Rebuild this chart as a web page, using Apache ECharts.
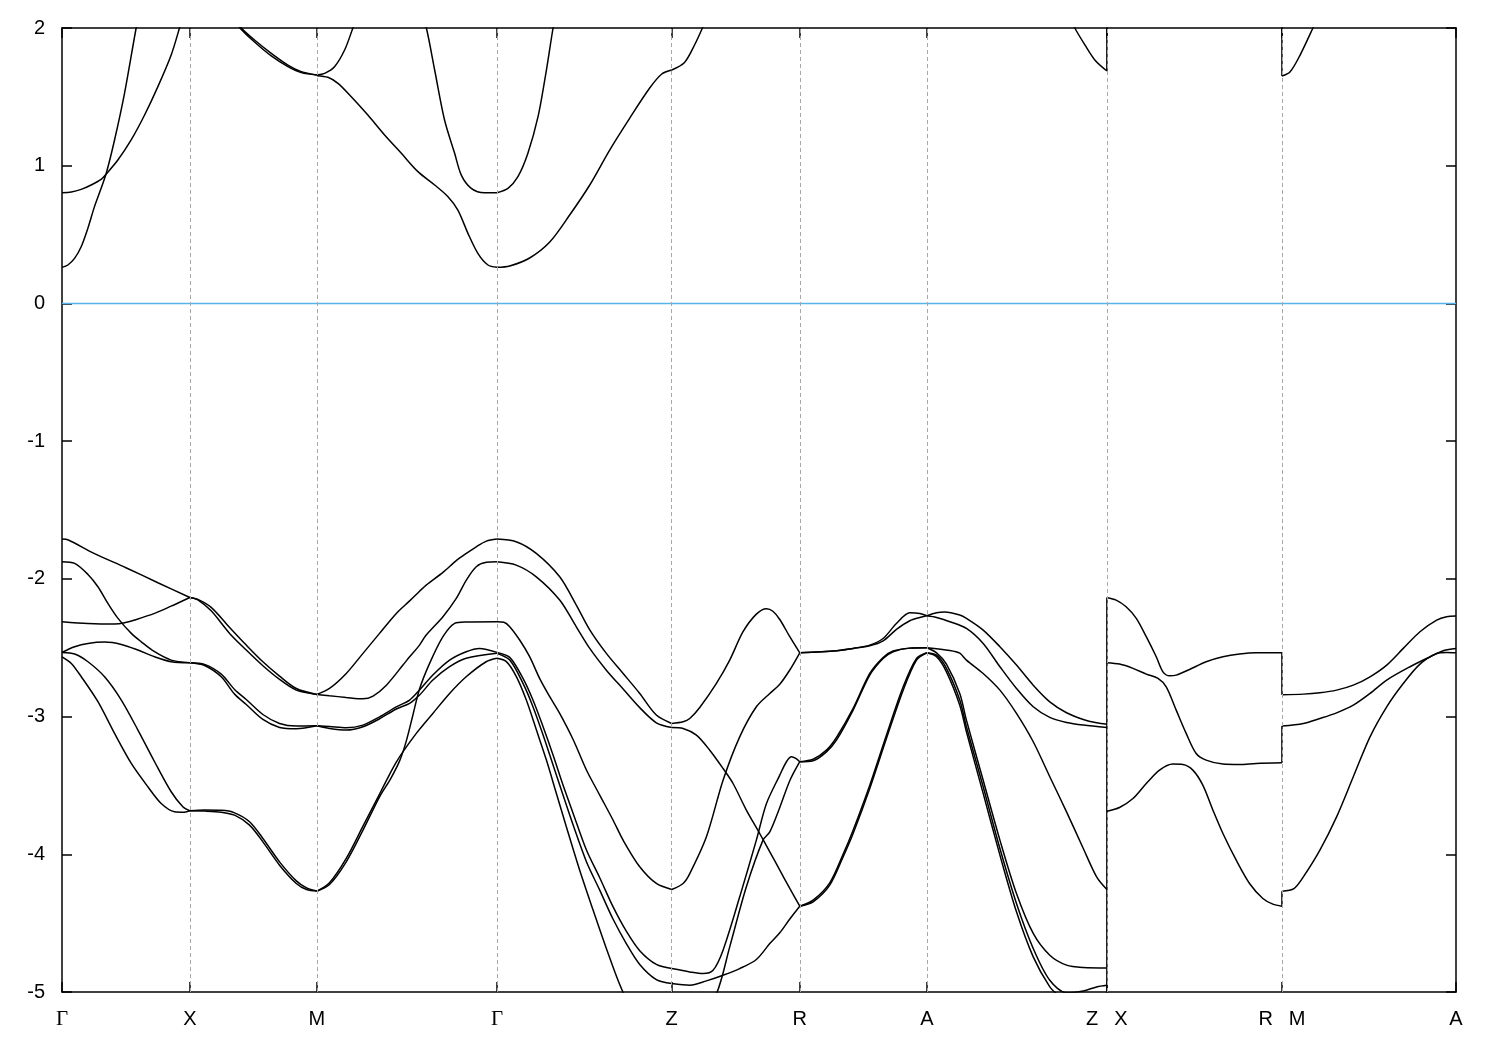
<!DOCTYPE html>
<html><head><meta charset="utf-8">
<script src="https://cdn.jsdelivr.net/npm/echarts@6/dist/echarts.min.js"></script>
<style>html,body{margin:0;padding:0;background:#fff}#chart{width:1500px;height:1050px}</style>
</head><body><div id="chart"></div>
<script>
// k-path positions of the high-symmetry points (path distance, arbitrary units)
const kTicks = [0, 127.8, 254.8, 434.8, 609.5, 737.5, 864.5, 1044.5, 1219.5, 1393.5];
const tickLabels = ['Γ', 'X', 'M', 'Γ', 'Z', 'R', 'A', 'Z X', 'R M', 'A'];
const fermiLevel = 0;
const yTicks = {min: -5, max: 2, step: 1};

// Each segment: list of curves, each curve = [fraction along segment, energy (eV)]
const bandsGX = [
  [[0,-1.711],[0.05,-1.718],[0.25,-1.815],[0.5,-1.919],[0.75,-2.028],[1,-2.135]],
  [[0,-1.876],[0.099,-1.888],[0.203,-1.968],[0.281,-2.057],[0.359,-2.178],[0.438,-2.287],[0.542,-2.396],[0.62,-2.457],[0.724,-2.529],[0.854,-2.59],[1,-2.609]],
  [[0,-2.311],[0.203,-2.324],[0.411,-2.328],[0.49,-2.319],[0.568,-2.299],[0.724,-2.251],[0.854,-2.198],[1,-2.135]],
  [[0,-2.534],[0.099,-2.493],[0.203,-2.469],[0.333,-2.459],[0.464,-2.476],[0.594,-2.517],[0.724,-2.566],[0.854,-2.602],[1,-2.609]],
  [[0,-2.534],[0.099,-2.546],[0.203,-2.602],[0.333,-2.711],[0.464,-2.88],[0.594,-3.098],[0.724,-3.328],[0.854,-3.546],[0.945,-3.655],[1,-3.684]],
  [[0,-2.566],[0.073,-2.614],[0.151,-2.711],[0.281,-2.892],[0.411,-3.122],[0.542,-3.34],[0.672,-3.51],[0.776,-3.631],[0.88,-3.691],[0.958,-3.694],[1,-3.684]],
  [[0,0.262],[0.046,0.279],[0.098,0.327],[0.15,0.412],[0.202,0.545],[0.254,0.703],[0.306,0.836],[0.346,0.945],[0.411,1.187],[0.489,1.526],[0.58,2.0],[0.62,2.18]],
  [[0,0.804],[0.073,0.809],[0.15,0.828],[0.228,0.86],[0.306,0.901],[0.346,0.94],[0.437,1.041],[0.541,1.187],[0.646,1.368],[0.75,1.574],[0.854,1.804],[0.919,2.0],[0.958,2.13]]
];
const bandsXM = [
  [[0,-2.135],[0.063,-2.149],[0.168,-2.207],[0.313,-2.353],[0.444,-2.481],[0.575,-2.602],[0.706,-2.706],[0.838,-2.796],[1,-2.839]],
  [[0,-2.135],[0.063,-2.152],[0.168,-2.232],[0.313,-2.396],[0.444,-2.517],[0.575,-2.631],[0.706,-2.73],[0.838,-2.808],[1,-2.839]],
  [[0,-2.609],[0.116,-2.621],[0.247,-2.692],[0.352,-2.803],[0.444,-2.876],[0.575,-2.985],[0.706,-3.05],[0.838,-3.069],[1,-3.067]],
  [[0,-2.609],[0.116,-2.629],[0.247,-2.711],[0.352,-2.837],[0.444,-2.912],[0.575,-3.021],[0.706,-3.079],[0.838,-3.089],[1,-3.067]],
  [[0,-3.684],[0.116,-3.679],[0.247,-3.681],[0.352,-3.699],[0.47,-3.764],[0.575,-3.885],[0.706,-4.055],[0.838,-4.193],[0.919,-4.244],[1,-4.267]],
  [[0,-3.684],[0.116,-3.686],[0.247,-3.694],[0.352,-3.716],[0.47,-3.788],[0.575,-3.91],[0.706,-4.079],[0.838,-4.212],[0.919,-4.256],[1,-4.267]],
  [[0.3,2.12],[0.405,2.0],[0.509,1.913],[0.641,1.816],[0.772,1.731],[0.877,1.683],[1,1.659]],
  [[0.3,2.1],[0.405,1.99],[0.509,1.898],[0.641,1.797],[0.772,1.719],[0.877,1.676],[1,1.659]]
];
const bandsMG = [
  [[0,-2.839],[0.07,-2.796],[0.163,-2.687],[0.256,-2.541],[0.348,-2.396],[0.441,-2.251],[0.515,-2.16],[0.57,-2.09],[0.607,-2.045],[0.7,-1.953],[0.774,-1.868],[0.83,-1.815],[0.885,-1.767],[0.941,-1.726],[1,-1.711]],
  [[0,-2.839],[0.07,-2.849],[0.163,-2.861],[0.256,-2.871],[0.312,-2.851],[0.386,-2.772],[0.478,-2.626],[0.515,-2.566],[0.57,-2.481],[0.607,-2.408],[0.7,-2.275],[0.774,-2.142],[0.83,-2.009],[0.885,-1.912],[0.941,-1.88],[1,-1.876]],
  [[0,-3.067],[0.07,-3.072],[0.163,-3.081],[0.256,-3.062],[0.348,-3.002],[0.441,-2.93],[0.515,-2.88],[0.57,-2.807],[0.644,-2.698],[0.737,-2.59],[0.829,-2.529],[0.903,-2.505],[1,-2.534]],
  [[0,-3.067],[0.07,-3.086],[0.163,-3.098],[0.256,-3.074],[0.348,-3.016],[0.441,-2.945],[0.515,-2.904],[0.57,-2.844],[0.644,-2.735],[0.737,-2.638],[0.829,-2.577],[1,-2.541]],
  [[0,-4.268],[0.07,-4.22],[0.163,-4.055],[0.256,-3.825],[0.348,-3.583],[0.41,-3.45],[0.46,-3.32],[0.496,-3.18],[0.533,-2.99],[0.57,-2.8],[0.626,-2.614],[0.7,-2.42],[0.765,-2.323],[0.829,-2.313],[1,-2.311]],
  [[0,-4.268],[0.07,-4.207],[0.163,-4.03],[0.256,-3.796],[0.348,-3.563],[0.441,-3.33],[0.552,-3.122],[0.644,-2.977],[0.737,-2.832],[0.829,-2.711],[0.94,-2.602],[1,-2.577]],
  [[0,1.659],[0.043,1.671],[0.098,1.719],[0.154,1.84],[0.2,2.0],[0.24,2.14]],
  [[0,1.654],[0.061,1.642],[0.117,1.598],[0.191,1.501],[0.283,1.368],[0.376,1.223],[0.469,1.09],[0.561,0.957],[0.654,0.86],[0.728,0.775],[0.783,0.678],[0.839,0.509],[0.894,0.364],[0.95,0.279],[1,0.262]],
  [[0.58,2.1],[0.608,2.0],[0.654,1.695],[0.709,1.332],[0.765,1.09],[0.802,0.932],[0.857,0.836],[0.931,0.804],[1,0.804]]
];
const bandsGZ = [
  [[0,-1.711],[0.11,-1.73],[0.225,-1.815],[0.359,-1.985],[0.454,-2.19],[0.531,-2.37],[0.626,-2.541],[0.722,-2.687],[0.817,-2.832],[0.912,-2.989],[1,-3.05]],
  [[0,-1.876],[0.11,-1.9],[0.225,-1.985],[0.359,-2.154],[0.454,-2.348],[0.531,-2.505],[0.626,-2.663],[0.722,-2.8],[0.817,-2.935],[0.912,-3.045],[1,-3.079]],
  [[0,-2.311],[0.04,-2.315],[0.073,-2.347],[0.13,-2.444],[0.187,-2.565],[0.244,-2.723],[0.302,-2.856],[0.359,-2.977],[0.437,-3.17],[0.512,-3.388],[0.588,-3.57],[0.664,-3.751],[0.722,-3.898],[0.817,-4.091],[0.912,-4.212],[1,-4.256]],
  [[0,-2.534],[0.073,-2.57],[0.149,-2.723],[0.206,-2.88],[0.264,-3.074],[0.321,-3.279],[0.378,-3.497],[0.436,-3.703],[0.512,-3.969],[0.588,-4.17],[0.664,-4.38],[0.741,-4.56],[0.817,-4.7],[0.912,-4.8],[1,-4.83]],
  [[0,-2.541],[0.073,-2.59],[0.149,-2.759],[0.206,-2.928],[0.264,-3.134],[0.321,-3.352],[0.378,-3.57],[0.436,-3.788],[0.512,-4.054],[0.588,-4.26],[0.664,-4.47],[0.741,-4.65],[0.817,-4.8],[0.912,-4.91],[1,-4.939]],
  [[0,-2.577],[0.054,-2.601],[0.111,-2.71],[0.168,-2.88],[0.226,-3.098],[0.283,-3.316],[0.34,-3.558],[0.397,-3.8],[0.473,-4.114],[0.55,-4.405],[0.626,-4.684],[0.721,-5.0],[0.817,-5.2],[1,-5.4]],
  [[0,0.804],[0.063,0.836],[0.12,0.92],[0.177,1.09],[0.235,1.356],[0.283,1.695],[0.321,2.0],[0.35,2.2]],
  [[0,0.262],[0.073,0.272],[0.187,0.33],[0.302,0.446],[0.416,0.642],[0.531,0.86],[0.645,1.114],[0.76,1.346],[0.874,1.564],[0.943,1.666],[1,1.695]]
];
const bandsZR = [
  [[0,-3.05],[0.089,-3.038],[0.141,-3.014],[0.219,-2.934],[0.349,-2.759],[0.453,-2.59],[0.557,-2.384],[0.661,-2.256],[0.74,-2.217],[0.79,-2.235],[0.844,-2.295],[0.922,-2.42],[1,-2.537]],
  [[0,-3.079],[0.089,-3.086],[0.193,-3.135],[0.297,-3.244],[0.401,-3.377],[0.479,-3.486],[0.583,-3.679],[0.687,-3.849],[0.766,-3.982],[0.844,-4.115],[0.922,-4.248],[1,-4.377]],
  [[0,-4.256],[0.089,-4.212],[0.141,-4.14],[0.271,-3.873],[0.401,-3.462],[0.531,-3.147],[0.661,-2.929],[0.766,-2.832],[0.844,-2.765],[0.922,-2.662],[1,-2.537]],
  [[0,-4.83],[0.141,-4.854],[0.245,-4.866],[0.323,-4.842],[0.401,-4.696],[0.531,-4.309],[0.661,-3.897],[0.74,-3.631],[0.844,-3.425],[0.896,-3.328],[0.935,-3.292],[0.969,-3.304],[1,-3.328]],
  [[0,-4.939],[0.141,-4.951],[0.271,-4.919],[0.401,-4.878],[0.531,-4.83],[0.661,-4.764],[0.766,-4.648],[0.844,-4.57],[0.922,-4.47],[1,-4.377]],
  [[0,-5.4],[0.2,-5.22],[0.35,-5.011],[0.453,-4.672],[0.583,-4.236],[0.713,-3.897],[0.766,-3.837],[0.844,-3.66],[0.922,-3.466],[1,-3.328]],
  [[0,1.695],[0.1,1.75],[0.18,1.88],[0.24,2.0],[0.3,2.12]]
];
const bandsRA = [
  [[0,-2.537],[0.289,-2.522],[0.42,-2.505],[0.551,-2.481],[0.656,-2.433],[0.761,-2.324],[0.866,-2.246],[0.945,-2.251],[1,-2.268]],
  [[0,-2.537],[0.289,-2.522],[0.42,-2.505],[0.551,-2.486],[0.656,-2.45],[0.761,-2.367],[0.866,-2.304],[0.945,-2.28],[1,-2.268]],
  [[0,-3.328],[0.105,-3.321],[0.21,-3.256],[0.289,-3.171],[0.42,-2.953],[0.551,-2.699],[0.656,-2.578],[0.735,-2.529],[0.866,-2.503],[1,-2.5]],
  [[0,-3.328],[0.105,-3.31],[0.21,-3.244],[0.289,-3.152],[0.42,-2.941],[0.551,-2.687],[0.656,-2.571],[0.735,-2.524],[0.866,-2.503],[1,-2.5]],
  [[0,-4.377],[0.105,-4.345],[0.236,-4.224],[0.341,-4.019],[0.42,-3.849],[0.551,-3.522],[0.682,-3.159],[0.814,-2.808],[0.919,-2.59],[1,-2.537]],
  [[0,-4.377],[0.105,-4.333],[0.236,-4.207],[0.341,-4.0],[0.42,-3.825],[0.551,-3.498],[0.682,-3.135],[0.814,-2.784],[0.919,-2.578],[1,-2.537]]
];
const bandsAZ = [
  [[0,-2.268],[0.054,-2.246],[0.1,-2.241],[0.183,-2.263],[0.22,-2.287],[0.313,-2.372],[0.406,-2.493],[0.498,-2.626],[0.591,-2.772],[0.683,-2.893],[0.776,-2.972],[0.869,-3.021],[0.943,-3.045],[1,-3.055]],
  [[0,-2.268],[0.054,-2.28],[0.128,-2.311],[0.22,-2.36],[0.313,-2.469],[0.406,-2.638],[0.498,-2.796],[0.591,-2.929],[0.683,-3.006],[0.776,-3.043],[0.869,-3.062],[1,-3.079]],
  [[0,-2.5],[0.128,-2.52],[0.183,-2.54],[0.22,-2.59],[0.313,-2.687],[0.406,-2.808],[0.498,-2.977],[0.591,-3.183],[0.683,-3.437],[0.776,-3.692],[0.869,-3.958],[0.943,-4.164],[1,-4.256]],
  [[0,-2.5],[0.054,-2.537],[0.109,-2.619],[0.183,-2.832],[0.22,-3.026],[0.313,-3.462],[0.406,-3.897],[0.498,-4.285],[0.591,-4.575],[0.683,-4.733],[0.776,-4.805],[0.869,-4.822],[1,-4.825]],
  [[0,-2.537],[0.054,-2.554],[0.109,-2.65],[0.183,-2.88],[0.22,-3.074],[0.313,-3.51],[0.406,-3.958],[0.498,-4.357],[0.591,-4.684],[0.683,-4.915],[0.776,-5.006],[0.869,-4.992],[0.943,-4.963],[1,-4.951]],
  [[0,-2.537],[0.054,-2.566],[0.109,-2.675],[0.183,-2.917],[0.22,-3.11],[0.313,-3.558],[0.406,-4.006],[0.498,-4.418],[0.591,-4.745],[0.683,-4.963],[0.735,-5.03],[0.869,-5.2],[1,-5.25]],
  [[0.78,2.12],[0.822,2.0],[0.878,1.877],[0.933,1.768],[1,1.688]]
];
const bandsXR = [
  [[0,-2.137],[0.053,-2.154],[0.11,-2.203],[0.168,-2.287],[0.225,-2.42],[0.282,-2.566],[0.32,-2.675],[0.358,-2.704],[0.396,-2.699],[0.472,-2.658],[0.567,-2.602],[0.663,-2.566],[0.758,-2.546],[0.853,-2.537],[1,-2.537]],
  [[0,-2.609],[0.072,-2.619],[0.149,-2.65],[0.225,-2.692],[0.292,-2.723],[0.339,-2.784],[0.396,-2.953],[0.453,-3.122],[0.51,-3.268],[0.567,-3.316],[0.663,-3.345],[0.758,-3.348],[0.853,-3.34],[1,-3.335]],
  [[0,-3.687],[0.072,-3.66],[0.149,-3.595],[0.225,-3.486],[0.301,-3.389],[0.377,-3.345],[0.434,-3.348],[0.491,-3.389],[0.548,-3.498],[0.606,-3.68],[0.663,-3.849],[0.739,-4.043],[0.815,-4.212],[0.891,-4.321],[0.948,-4.362],[1,-4.377]]
];
const bandsMA = [
  [[0,-2.842],[0.123,-2.837],[0.218,-2.827],[0.314,-2.808],[0.41,-2.772],[0.506,-2.711],[0.602,-2.626],[0.697,-2.505],[0.793,-2.384],[0.889,-2.3],[0.946,-2.275],[1,-2.27]],
  [[0,-3.069],[0.123,-3.05],[0.218,-3.014],[0.314,-2.973],[0.41,-2.917],[0.506,-2.832],[0.602,-2.735],[0.736,-2.638],[0.851,-2.566],[0.93,-2.52],[1,-2.505]],
  [[0,-4.268],[0.069,-4.249],[0.123,-4.164],[0.218,-3.97],[0.314,-3.728],[0.41,-3.437],[0.506,-3.147],[0.602,-2.929],[0.697,-2.76],[0.793,-2.619],[0.889,-2.542],[0.946,-2.534],[1,-2.537]],
  [[0,1.651],[0.046,1.68],[0.103,1.8],[0.178,2.0],[0.22,2.12]]
];
// vertical connections at the path breaks (energy from, energy to)
const jumpZX = [[-2.135, -5.4], [1.688, 2.3]];
const jumpRM = [[-2.537, -2.842], [-3.335, -3.069], [-4.377, -4.268], [1.651, 2.3]];

const segmentBands = [bandsGX, bandsXM, bandsMG, bandsGZ, bandsZR, bandsRA, bandsAZ, bandsXR, bandsMA];
const bandStyle = {color: '#000', width: 1.5};
const series = [];

// dashed vertical lines at the high-symmetry points
series.push({
  type: 'line', data: [], z: 1, silent: true, symbol: 'none',
  markLine: {
    silent: true, symbol: 'none', label: {show: false}, animation: false,
    lineStyle: {color: '#a8a8a8', type: [4, 3], width: 1},
    data: kTicks.slice(1, -1).map(v => ({xAxis: v}))
  }
});

segmentBands.forEach((curves, s) => {
  const k0 = kTicks[s], k1 = kTicks[s + 1];
  curves.forEach(c => {
    series.push({
      type: 'line', z: 3, silent: true, symbol: 'none', showSymbol: false,
      smooth: 0.3, clip: true,
      lineStyle: bandStyle,
      data: c.map(([t, e]) => [k0 + t * (k1 - k0), e])
    });
  });
});

[[7, jumpZX], [8, jumpRM]].forEach(([i, list]) => {
  list.forEach(([a, b]) => {
    series.push({
      type: 'line', z: 3, silent: true, symbol: 'none', clip: true,
      lineStyle: bandStyle,
      data: [[kTicks[i], a], [kTicks[i], b]]
    });
  });
});

series.push({
  type: 'line', z: 4, silent: true, symbol: 'none',
  lineStyle: {color: '#56B4E9', width: 1.6},
  data: [[kTicks[0], fermiLevel], [kTicks[kTicks.length - 1], fermiLevel]]
});

const labelFmt = v => {
  const i = kTicks.findIndex(k => Math.abs(k - v) < 1e-6);
  if (i < 0) return '';
  return tickLabels[i].split(' ').map(p => p === 'Γ' ? '{g|Γ}' : '{t|' + p + '}').join('{s| }');
};

const axisLine = {show: true, onZero: false, lineStyle: {color: '#000', width: 1.5}};
const axisTick = {show: true, inside: true, length: 10, lineStyle: {color: '#000', width: 1.5}};
const fontSans = 'Liberation Sans, Arial, sans-serif';

const option = {
  animation: false,
  backgroundColor: '#fff',
  grid: {left: 62, right: 44, top: 28, bottom: 58, containLabel: false},
  xAxis: [
    {
      type: 'value', min: kTicks[0], max: kTicks[kTicks.length - 1], position: 'bottom',
      axisLine, axisTick: Object.assign({customValues: kTicks}, axisTick),
      splitLine: {show: false},
      axisLabel: {
        customValues: kTicks, formatter: labelFmt, margin: 17, color: '#000',
        rich: {
          t: {fontSize: 20, fontFamily: fontSans, color: '#000'},
          g: {fontSize: 21, fontFamily: 'Liberation Serif, DejaVu Serif, serif', color: '#000'},
          s: {width: 16, fontSize: 20}
        }
      }
    },
    {
      type: 'value', min: kTicks[0], max: kTicks[kTicks.length - 1], position: 'top',
      axisLine, axisTick: Object.assign({customValues: kTicks}, axisTick),
      splitLine: {show: false}, axisLabel: {show: false}
    }
  ],
  yAxis: [
    {
      type: 'value', min: yTicks.min, max: yTicks.max, interval: yTicks.step, position: 'left',
      axisLine, axisTick, splitLine: {show: false},
      axisLabel: {margin: 17, color: '#000', fontSize: 20, fontFamily: fontSans}
    },
    {
      type: 'value', min: yTicks.min, max: yTicks.max, interval: yTicks.step, position: 'right',
      axisLine, axisTick, splitLine: {show: false}, axisLabel: {show: false}
    }
  ],
  series
};

const chart = echarts.init(document.getElementById('chart'), null, {renderer: 'canvas'});
chart.setOption(option);
</script>
</body></html>
